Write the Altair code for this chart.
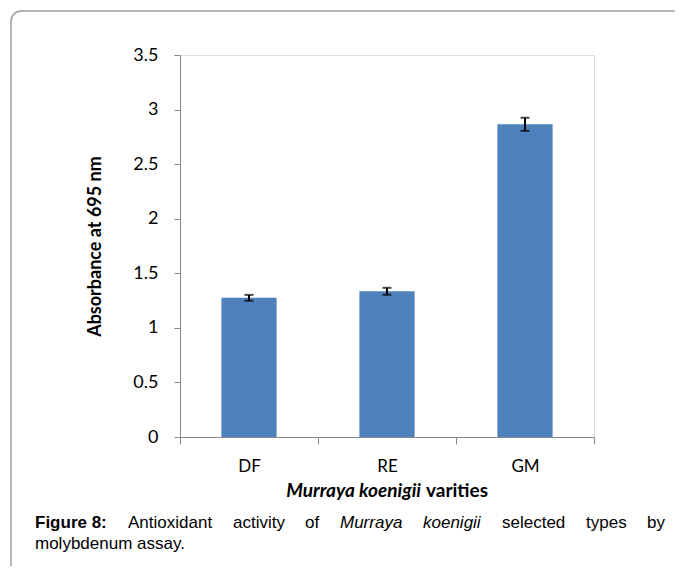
import altair as alt
import pandas as pd

categories = ["DF", "RE", "GM"]
absorbance = [1.275, 1.335, 2.865]
error = [0.027, 0.032, 0.06]
y_ticks = [0, 0.5, 1, 1.5, 2, 2.5, 3, 3.5]

df = pd.DataFrame({"cat": categories, "val": absorbance, "err": error})
df["lo"] = df["val"] - df["err"]
df["hi"] = df["val"] + df["err"]

W, H = 414, 382
X0, Y0 = 180, 55  # absolute position of plot origin

def ax(v):
    return v - X0

def ay(v):
    return v - Y0

xenc = alt.X("cat:N", sort=categories, title=None,
             scale=alt.Scale(paddingInner=0, paddingOuter=0),
             axis=alt.Axis(labelAngle=0, labelFont="Lato", labelFontSize=17, labelColor="#000",
                           labelPadding=14, domainColor="#8a8a8a", tickColor="#8a8a8a",
                           tickSize=7, tickBand="extent", grid=False))
yscale = alt.Scale(domain=[0, 3.5], nice=False)

bars = alt.Chart(df).mark_bar(color="#4f81bd", width=alt.RelativeBandSize(0.4)).encode(
    x=xenc,
    y=alt.Y("val:Q", scale=yscale, title="Absorbance at 695 nm",
            axis=alt.Axis(values=y_ticks, format=".1~f", labelFont="Lato", labelFontSize=18,
                          labelColor="#000", labelPadding=16, domainColor="#8a8a8a",
                          tickColor="#8a8a8a", tickSize=6, grid=False,
                          titleFont="Lato", titleFontSize=18, titleFontWeight="bold",
                          titleColor="#000", titlePadding=28)),
)
rules = alt.Chart(df).mark_rule(color="#000", strokeWidth=2).encode(
    x=alt.X("cat:N", sort=categories), y="lo:Q", y2="hi:Q")
cap_lo = alt.Chart(df).mark_tick(color="#000", thickness=2, size=9).encode(
    x=alt.X("cat:N", sort=categories), y="lo:Q")
cap_hi = alt.Chart(df).mark_tick(color="#000", thickness=2, size=9).encode(
    x=alt.X("cat:N", sort=categories), y="hi:Q")

def txt(s, x, y, align="left", font="Lato", size=17, weight="normal", style="normal"):
    return alt.Chart(pd.DataFrame({"t": [s]})).mark_text(
        align=align, baseline="alphabetic", font=font, fontSize=size,
        fontWeight=weight, fontStyle=style, color="#000").encode(
        x=alt.value(ax(x)), y=alt.value(ay(y)), text="t:N")

xtitle = [
    txt("Murraya koenigii", 421, 497, align="right", size=19, weight="bold", style="italic"),
    txt("varities", 426, 497, align="left", size=19, weight="bold"),
]

cap_font = "Liberation Sans"
line1_y = 528
line2_y = 549
caption = [
    txt("Figure 8:", 35, line1_y, font=cap_font, weight="bold"),
    txt("Antioxidant", 128, line1_y, font=cap_font),
    txt("activity", 233, line1_y, font=cap_font),
    txt("of", 305, line1_y, font=cap_font),
    txt("Murraya", 340, line1_y, font=cap_font, style="italic"),
    txt("koenigii", 423, line1_y, font=cap_font, style="italic"),
    txt("selected", 502, line1_y, font=cap_font),
    txt("types", 586, line1_y, font=cap_font),
    txt("by", 665, line1_y, align="right", font=cap_font),
    txt("molybdenum assay.", 35, line2_y, font=cap_font),
]

frame = alt.Chart(pd.DataFrame({"a": [0]})).mark_rect(
    fill="transparent", stroke="#a0a0a0", strokeWidth=1.5, cornerRadius=10).encode(
    x=alt.value(ax(11)), x2=alt.value(ax(720)), y=alt.value(ay(11)), y2=alt.value(ay(620)))

chart = alt.layer(frame, bars, rules, cap_lo, cap_hi, *xtitle, *caption).properties(
    width=W, height=H, autosize="none",
    padding={"left": X0 - 8, "top": Y0 - 8, "right": 667 - (X0 - 8) - W, "bottom": 558 - (Y0 - 8) - H},
).configure_view(stroke=None).configure(background="white")

chart.save("out.html", embed_options={"renderer": "svg", "actions": False})
